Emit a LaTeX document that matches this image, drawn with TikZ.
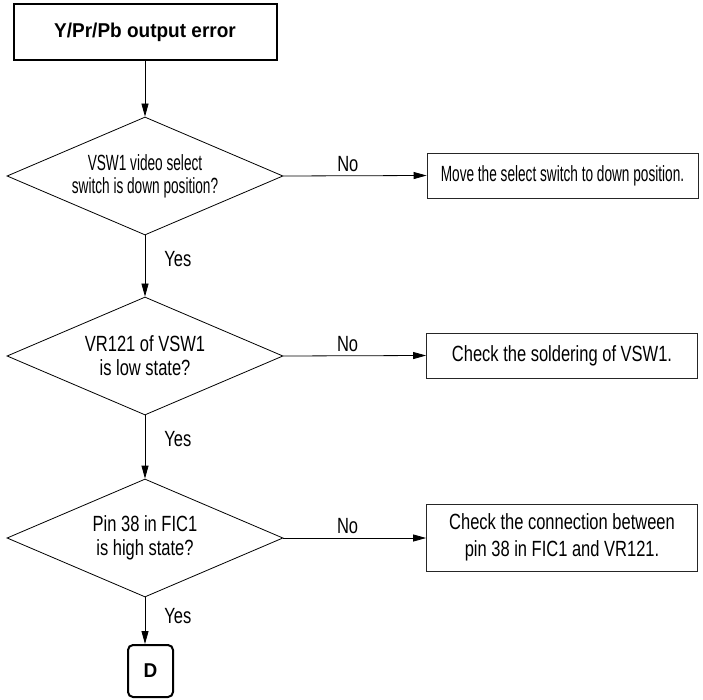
\documentclass[tikz,border=0pt]{standalone}
\usepackage{fontspec}
\setmainfont[FakeStretch=0.75]{Liberation Sans}
\newfontfamily\narrowfont[FakeStretch=0.62]{Liberation Sans}
\newfontfamily\titlefont[FakeStretch=0.95]{Liberation Sans}
\usetikzlibrary{shapes.geometric,arrows.meta}
\begin{document}
\begin{tikzpicture}[x=1pt, y=-1pt, >={Triangle[length=13pt,width=7pt]},
    every node/.style={font=\fontsize{22}{24}\selectfont},
    decision/.style={diamond, draw, line width=0.8pt, aspect=2.34, minimum width=276pt, minimum height=118pt, inner sep=0pt, align=center},
    action/.style={rectangle, draw, black!85, text=black, line width=0.8pt, minimum width=271pt, minimum height=45pt, align=center},
    answer/.style={inner sep=1pt}]
    \useasboundingbox (0,0) rectangle (703,700);
    % start
    \node[draw, line width=2pt, minimum width=263pt, minimum height=56pt, font=\titlefont\bfseries\fontsize{20}{23}\selectfont] (start) at (145,32) {Y/Pr/Pb output error};
    % questions
    \node[decision, font=\narrowfont\fontsize{22}{23}\selectfont] (q1) at (145,176) {VSW1 video select\\switch is down position?};
    \node[decision] (q2) at (145,356) {VR121 of VSW1\\is low state?};
    \node[decision] (q3) at (145,538) {Pin 38 in FIC1\\is high state?};
    % actions
    \node[action, font=\narrowfont\fontsize{22}{24}\selectfont] (a1) at (562.5,175.5) {Move the select switch to down position.};
    \node[action] (a2) at (562,355.5) {Check the soldering of VSW1.};
    \node[action, minimum height=67pt, font=\fontsize{22}{27}\selectfont] (a3) at (562,537.5) {Check the connection between\\pin 38 in FIC1 and VR121.};
    % end
    \node[draw, rounded corners=5pt, line width=2pt, minimum width=45pt, minimum height=52pt, font=\titlefont\bfseries\fontsize{20}{23}\selectfont] (d) at (150.5,671) {D};

    \draw[->, line width=0.8pt] (start) -- (q1);
    \draw[->, line width=0.8pt] (q1) -- node[answer, right=18pt, pos=0.38] {Yes} (q2);
    \draw[->, line width=0.8pt] (q2) -- node[answer, right=18pt, pos=0.38] {Yes} (q3);
    \draw[->, line width=0.8pt] (q3.south) -- node[answer, right=18pt, pos=0.4] {Yes} (q3.south |- d.north);
    \draw[->, line width=0.8pt] (q1.east) -- node[answer, above=3pt, pos=0.45] {No} (a1.west);
    \draw[->, line width=0.8pt] (q2.east) -- node[answer, above=3pt, pos=0.45] {No} (a2.west);
    \draw[->, line width=0.8pt] (q3.east) -- node[answer, above=3pt, pos=0.45] {No} (q3.east -| a3.west);
\end{tikzpicture}
\end{document}
